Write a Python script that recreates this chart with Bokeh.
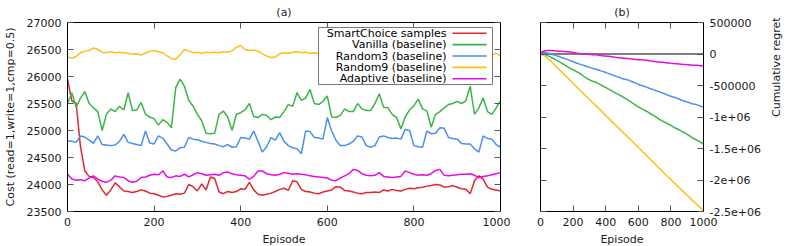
import math
import numpy as np
from bokeh.plotting import figure
from bokeh.layouts import row
from bokeh.models import LinearAxis, FixedTicker, Span, BoxAnnotation, Label, CustomLabelingPolicy
from bokeh.embed import file_html
from bokeh.resources import INLINE

# ---------------- data ----------------
episodes = list(range(0, 1001, 10))

smartchoice = [
    25950, 25550, 25500, 24700, 24250, 24150, 24130, 24050, 23900, 23800,
    23900, 24030, 23960, 23880, 23870, 23850, 23870, 23900, 23880, 23840,
    23830, 23800, 23770, 23780, 23800, 23830, 23820, 23840, 24000, 23960,
    23880, 24010, 23900, 24140, 24110, 23860, 23830, 23870, 23850, 23870,
    23920, 23910, 24040, 23900, 23820, 23800, 23820, 23840, 23870, 23910,
    23930, 23890, 24070, 24050, 23910, 23870, 23860, 23840, 23830, 23860,
    23880, 23900, 23960, 23950, 23890, 23880, 23860, 23840, 23830, 23850,
    23850, 23860, 23850, 23900, 23880, 23910, 23890, 23880, 23910, 23930,
    23920, 23940, 23950, 23970, 23980, 24000, 23990, 23950, 23960, 23980,
    23950, 23920, 23910, 23830, 24070, 24160, 24100, 23950, 23910, 23900,
    23880]

vanilla = [
    25500, 25700, 25430, 25600, 25720, 25500, 25420, 25350, 25000, 25300,
    25400, 25350, 25450, 25380, 25700, 25370, 25380, 25520, 25300, 25250,
    25220, 25100, 25200, 25150, 25050, 25800, 25950, 25820, 25560, 25450,
    25300, 25180, 24950, 24940, 24950, 25300, 25360, 25250, 25000, 25300,
    25330, 25380, 25500, 25260, 25240, 25300, 25280, 25200, 25250, 25240,
    25350, 25480, 25450, 25700, 25560, 25600, 25760, 25500, 25480, 25540,
    25640, 25250, 25240, 25280, 25400, 25350, 25350, 25500, 25400, 25370,
    25370, 25500, 25680, 25430, 25420, 25300, 25240, 25030, 25250, 25380,
    25460, 25580, 25400, 25360, 25060, 25300, 25350, 25420, 25480, 25500,
    25540, 25500, 25550, 25820, 25300, 25420, 25600, 25350, 25300, 25420,
    25550]

random3 = [
    24810, 24800, 24780, 24900, 24880, 24820, 24760, 24900, 24740, 24730,
    24720, 24730, 24800, 24930, 24780, 24760, 24740, 24720, 24990, 24770,
    24750, 24900, 24860, 24750, 24640, 24620, 24680, 24690, 24870, 24840,
    24830, 24800, 24780, 24760, 24750, 24720, 24700, 24740, 24690, 24700,
    24870, 24860, 24840, 24990, 24800, 24600, 24700, 24870, 24820, 24960,
    24800, 24720, 24680, 24660, 24570, 24990, 24980, 24870, 24860, 24840,
    25240, 24990, 24820, 24720, 24720, 24750, 24800, 24900, 24880, 24720,
    24690, 24720, 24880, 24900, 24870, 24850, 24860, 24840, 25020, 25000,
    24720, 24700, 24690, 24990, 24940, 24950, 25050, 25040, 24870, 24850,
    24840, 24760, 24750, 24750, 24660, 24600, 24900, 24850, 24840, 24740,
    24690]

random9 = [
    26360, 26340, 26370, 26440, 26470, 26480, 26530, 26500, 26450, 26440,
    26460, 26440, 26450, 26440, 26430, 26410, 26420, 26400, 26430, 26470,
    26480, 26460, 26440, 26380, 26330, 26320, 26400, 26500, 26470, 26440,
    26450, 26430, 26450, 26440, 26450, 26440, 26460, 26450, 26480, 26540,
    26570, 26500, 26480, 26490, 26470, 26420, 26380, 26350, 26360, 26420,
    26440, 26430, 26450, 26460, 26440, 26450, 26430, 26440, 26420, 26450,
    26470, 26440, 26420, 26450, 26480, 26460, 26430, 26410, 26440, 26460,
    26450, 26470, 26440, 26420, 26430, 26460, 26480, 26450, 26420, 26410,
    26440, 26460, 26470, 26440, 26420, 26430, 26450, 26470, 26460, 26430,
    26440, 26460, 26450, 26430, 26420, 26440, 26450, 26430, 26400, 26430,
    26380]

adaptive = [
    24190, 24100, 24080, 24090, 24070, 24120, 24160, 24100, 24060, 24040,
    24080, 24160, 24140, 24130, 24070, 24040, 24060, 24130, 24140, 24170,
    24190, 24180, 24250, 24140, 24130, 24160, 24150, 24190, 24140, 24180,
    24220, 24200, 24170, 24180, 24190, 24170, 24220, 24230, 24200, 24180,
    24170, 24160, 24100, 24150, 24250, 24250, 24200, 24180, 24170, 24190,
    24220, 24210, 24190, 24200, 24190, 24180, 24160, 24150, 24140, 24130,
    24120, 24080, 24070, 24120, 24160, 24200, 24280, 24260, 24200, 24170,
    24160, 24170, 24220, 24150, 24140, 24130, 24140, 24150, 24250, 24220,
    24190, 24170, 24180, 24170, 24200, 24260, 24280, 24170, 24160, 24170,
    24180, 24190, 24190, 24200, 24170, 24130, 24150, 24160, 24180, 24200,
    24220]

series_names = ["SmartChoice samples", "Vanilla (baseline)", "Random3 (baseline)",
                "Random9 (baseline)", "Adaptive (baseline)"]
series_colors = ["#e3262f", "#3bb54a", "#4a8ef0", "#fbbf17", "#e60ae6"]

x_ticks = [0, 200, 400, 600, 800, 1000]
cost_ticks = [23500, 24000, 24500, 25000, 25500, 26000, 26500, 27000]
regret_ticks = [500000, 0, -500000, -1000000, -1500000, -2000000, -2500000]
regret_tick_labels = ["500000", "0", "-500000", "-1e+06", "-1.5e+06", "-2e+06", "-2.5e+06"]

# cumulative regret of each baseline relative to SmartChoice
step = episodes[1] - episodes[0]
sc = np.array(smartchoice, dtype=float)
regrets = [np.cumsum(sc - np.array(s, dtype=float)) * step
           for s in (vanilla, random3, random9, adaptive)]

# ---------------- styling helpers ----------------
FONT = "DejaVu Sans"
TXT = "#1a1a1a"
HIDE_LABELS = "for (const i of indices) indices.unset(i); return indices"


def style_axis(ax, labels=True):
    ax.major_tick_in = 6
    ax.major_tick_out = 0
    ax.minor_tick_in = 0
    ax.minor_tick_out = 0
    ax.major_tick_line_color = "#555555"
    ax.axis_line_color = "black"
    ax.axis_line_width = 1
    ax.major_label_text_font = FONT
    ax.major_label_text_color = TXT
    ax.axis_label_text_font = FONT
    ax.axis_label_text_font_size = "11px"
    ax.axis_label_text_font_style = "normal"
    ax.axis_label_text_color = TXT
    if labels:
        ax.major_label_text_font_size = "11px"
        ax.major_label_standoff = 6
    else:
        ax.major_label_text_font_size = "1px"
        ax.major_label_standoff = 0
        ax.major_label_policy = CustomLabelingPolicy(code=HIDE_LABELS)


def style_fig(p):
    p.xgrid.visible = False
    p.ygrid.visible = False
    p.outline_line_color = "black"
    p.outline_line_width = 1
    p.background_fill_color = "white"
    p.border_fill_color = "white"
    p.title.align = "center"
    p.title.text_font = FONT
    p.title.text_font_size = "11px"
    p.title.text_font_style = "normal"
    p.title.text_color = TXT
    p.title.standoff = 0
    p.title.offset = 0


FW1, FH = 433, 189
FW2 = 163

# ---------------- (a) cost per episode ----------------
p1 = figure(frame_width=FW1, frame_height=FH, x_range=(0, 1000), y_range=(23500, 27000),
            output_backend="svg", toolbar_location=None, title="(a)",
            x_axis_label="Episode", y_axis_label="Cost (read=1,write=1,cmp=0.5)",
            min_border_left=66, min_border_right=10, min_border_top=22, min_border_bottom=35)
style_fig(p1)
p1.xaxis.ticker = FixedTicker(ticks=x_ticks)
p1.yaxis.ticker = FixedTicker(ticks=cost_ticks)
style_axis(p1.xaxis[0])
style_axis(p1.yaxis[0])
p1.xaxis.axis_label_standoff = 4
p1.yaxis.axis_label_standoff = 7

top1 = LinearAxis(ticker=FixedTicker(ticks=x_ticks))
style_axis(top1, labels=False)
p1.add_layout(top1, "above")
right1 = LinearAxis(ticker=FixedTicker(ticks=cost_ticks))
style_axis(right1, labels=False)
p1.add_layout(right1, "right")

for s, c in zip([smartchoice, vanilla, random3, random9, adaptive], series_colors):
    p1.line(episodes, s, line_color=c, line_width=1.5)

# legend drawn gnuplot-style (text left, sample right), layout in frame pixels
XR, YR = (0, 1000), (23500, 27000)


def dx(px):
    return XR[0] + px / FW1 * (XR[1] - XR[0])


def dy(py):
    return YR[1] - py / FH * (YR[1] - YR[0])


p1.add_layout(BoxAnnotation(left=dx(251), right=dx(425), top=dy(5), bottom=dy(62),
                            fill_color="white", fill_alpha=1.0,
                            line_color="#777777", line_width=1, line_alpha=1.0))
row_px = [10.7, 22.1, 33.5, 44.9, 56.3]
for name, c, ry in zip(series_names, series_colors, row_px):
    p1.add_layout(Label(x=dx(379), y=dy(ry), text=name, text_align="right",
                        text_baseline="middle", text_font=FONT, text_font_size="11px",
                        text_color="black"))
    p1.add_layout(BoxAnnotation(left=dx(385), right=dx(419), top=dy(ry - 0.8),
                                bottom=dy(ry + 0.8), fill_color=c, fill_alpha=1.0,
                                line_color=None))

# ---------------- (b) cumulative regret ----------------
p2 = figure(frame_width=FW2, frame_height=FH, x_range=(0, 1000),
            y_range=(regret_ticks[-1], regret_ticks[0]),
            output_backend="svg", toolbar_location=None, title="(b)",
            x_axis_label="Episode", y_axis_label="Cumulative regret",
            y_axis_location="right",
            min_border_left=30, min_border_right=86, min_border_top=22, min_border_bottom=35)
style_fig(p2)
p2.xaxis.ticker = FixedTicker(ticks=x_ticks)
p2.yaxis.ticker = FixedTicker(ticks=regret_ticks)
p2.yaxis.major_label_overrides = {t: l for t, l in zip(regret_ticks, regret_tick_labels)}
style_axis(p2.xaxis[0])
style_axis(p2.yaxis[0])
p2.xaxis.axis_label_standoff = 4
p2.yaxis.axis_label_standoff = 13
p2.yaxis.axis_label_orientation = math.pi / 2

top2 = LinearAxis(ticker=FixedTicker(ticks=x_ticks))
style_axis(top2, labels=False)
p2.add_layout(top2, "above")
left2 = LinearAxis(ticker=FixedTicker(ticks=regret_ticks))
style_axis(left2, labels=False)
p2.add_layout(left2, "left")

p2.add_layout(Span(location=0, dimension="width", line_color="black",
                   line_width=1.2, level="underlay"))
for r, c in zip(regrets, series_colors[1:]):
    p2.line(episodes, r, line_color=c, line_width=1.5)

layout = row(p1, p2)
open("out.html", "w").write(file_html(layout, INLINE))
